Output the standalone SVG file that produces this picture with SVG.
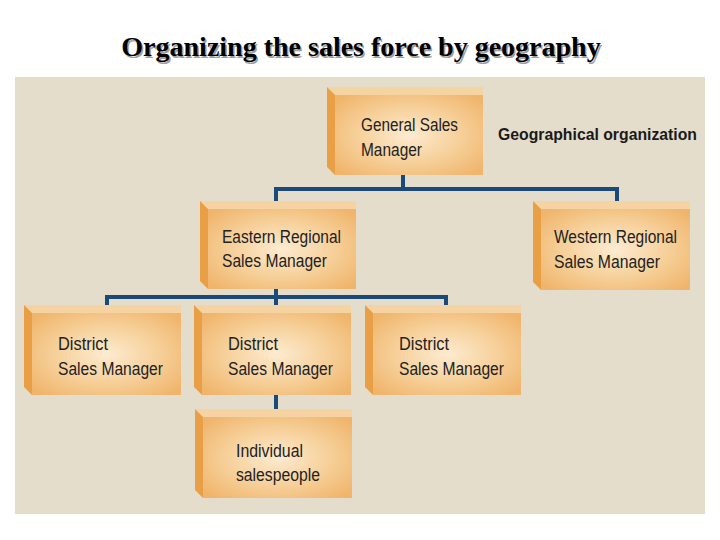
<svg xmlns="http://www.w3.org/2000/svg" width="720" height="540" viewBox="0 0 720 540">
<defs>
<radialGradient id="face" cx="0.5" cy="0.5" r="0.65">
<stop offset="0" stop-color="#fdebd0"/>
<stop offset="0.55" stop-color="#f6cf98"/>
<stop offset="1" stop-color="#f0b56c"/>
</radialGradient>
<style>
.bg{fill:#e4ddcc}
.face{fill:url(#face)}
.side{fill:#e89f45}
.top{fill:#f6d3a2}
.lbl{font-family:"Liberation Sans",Arial,sans-serif;font-size:17.5px;fill:#222222}
.conn{stroke:#1c4a78;stroke-width:4;fill:none}
.title{font-family:"Liberation Serif","Times New Roman",serif;font-size:28px;font-weight:bold}
</style>
</defs>
<rect x="0" y="0" width="720" height="540" fill="#ffffff"/>
<text class="title" x="362.5" y="57.5" text-anchor="middle" fill="#a0a0a0">Organizing the sales force by geography</text>
<text class="title" x="361" y="56" text-anchor="middle" fill="#000000">Organizing the sales force by geography</text>
<rect class="bg" x="15" y="77" width="690" height="437"/>
<g id="connectors">
<path class="conn" d="M403,175 V189 M276,189 H617 M276,187 V203 M617,187 V204"/>
<path class="conn" d="M276,289 V297 M107,297 H446 M107,295 V307 M276,295 V307 M446,295 V307"/>
<path class="conn" d="M276,395 V414"/>
</g>
<g id="gsm">
<polygon class="top" points="327,87 483,87 483,95 335,95"/>
<polygon class="side" points="327,87 335,95 335,175 327,167"/>
<rect class="face" x="335" y="95" width="148" height="80"/>
<text class="lbl" x="361" y="131" textLength="97" lengthAdjust="spacingAndGlyphs">General Sales</text>
<text class="lbl" x="361" y="156" textLength="61" lengthAdjust="spacingAndGlyphs">Manager</text>
</g>
<text id="geo" x="498" y="140" font-family="'Liberation Sans',Arial,sans-serif" font-size="17" font-weight="bold" fill="#1a1a1a" textLength="199" lengthAdjust="spacingAndGlyphs">Geographical organization</text>
<g id="east">
<polygon class="top" points="200,201 356,201 356,209 208,209"/>
<polygon class="side" points="200,201 208,209 208,289 200,281"/>
<rect class="face" x="208" y="209" width="148" height="80"/>
<text class="lbl" x="222" y="243" textLength="119" lengthAdjust="spacingAndGlyphs">Eastern Regional</text>
<text class="lbl" x="222" y="267" textLength="105" lengthAdjust="spacingAndGlyphs">Sales Manager</text>
</g>
<g id="west">
<polygon class="top" points="533,201 690,201 690,209 541,209"/>
<polygon class="side" points="533,201 541,209 541,290 533,282"/>
<rect class="face" x="541" y="209" width="149" height="81"/>
<text class="lbl" x="554" y="243" textLength="123" lengthAdjust="spacingAndGlyphs">Western Regional</text>
<text class="lbl" x="554" y="268" textLength="106" lengthAdjust="spacingAndGlyphs">Sales Manager</text>
</g>
<g id="d1">
<polygon class="top" points="24,305 181,305 181,313 32,313"/>
<polygon class="side" points="24,305 32,313 32,395 24,387"/>
<rect class="face" x="32" y="313" width="149" height="82"/>
<text class="lbl" x="58" y="350" textLength="50" lengthAdjust="spacingAndGlyphs">District</text>
<text class="lbl" x="58" y="375" textLength="105" lengthAdjust="spacingAndGlyphs">Sales Manager</text>
</g>
<g id="d2">
<polygon class="top" points="194,305 351,305 351,313 202,313"/>
<polygon class="side" points="194,305 202,313 202,395 194,387"/>
<rect class="face" x="202" y="313" width="149" height="82"/>
<text class="lbl" x="228" y="350" textLength="50" lengthAdjust="spacingAndGlyphs">District</text>
<text class="lbl" x="228" y="375" textLength="105" lengthAdjust="spacingAndGlyphs">Sales Manager</text>
</g>
<g id="d3">
<polygon class="top" points="365,305 521,305 521,313 373,313"/>
<polygon class="side" points="365,305 373,313 373,395 365,387"/>
<rect class="face" x="373" y="313" width="148" height="82"/>
<text class="lbl" x="399" y="350" textLength="50" lengthAdjust="spacingAndGlyphs">District</text>
<text class="lbl" x="399" y="375" textLength="105" lengthAdjust="spacingAndGlyphs">Sales Manager</text>
</g>
<g id="ind">
<polygon class="top" points="195,409 352,409 352,417 203,417"/>
<polygon class="side" points="195,409 203,417 203,498 195,490"/>
<rect class="face" x="203" y="417" width="149" height="81"/>
<text class="lbl" x="236" y="457" textLength="67" lengthAdjust="spacingAndGlyphs">Individual</text>
<text class="lbl" x="236" y="481" textLength="84" lengthAdjust="spacingAndGlyphs">salespeople</text>
</g>
</svg>
